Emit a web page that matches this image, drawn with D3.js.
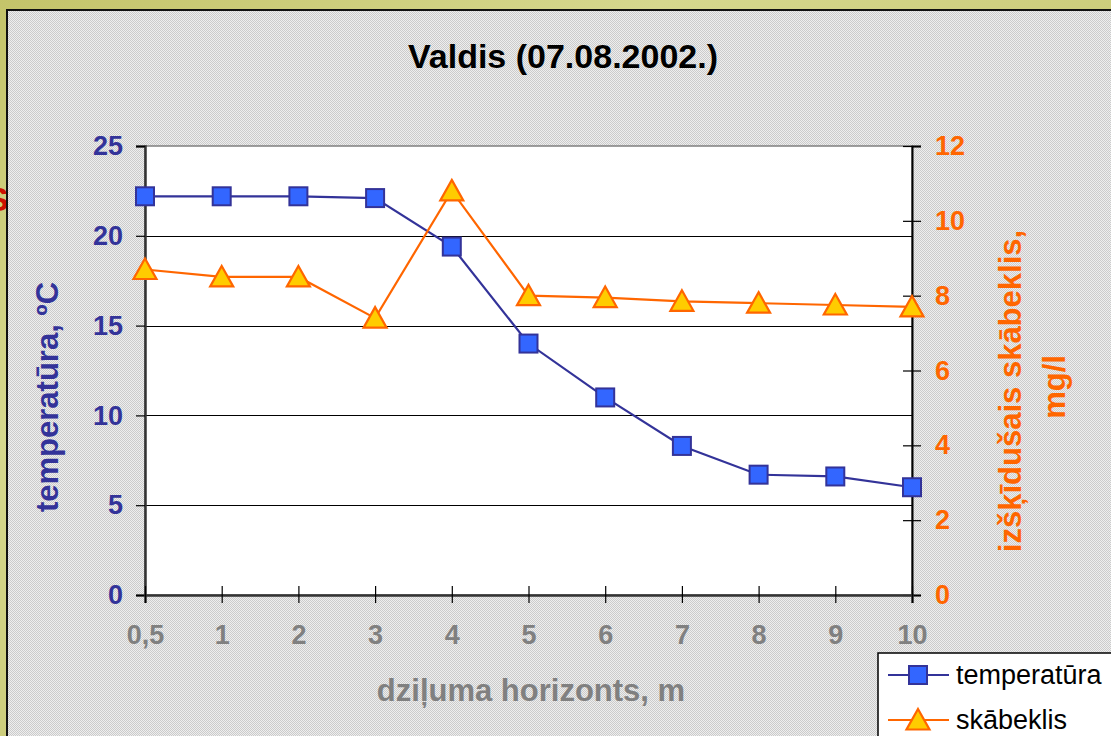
<!DOCTYPE html>
<html>
<head>
<meta charset="utf-8">
<script src="https://cdn.jsdelivr.net/npm/d3@7"></script>
<style>
  html, body { margin: 0; padding: 0; overflow: hidden; background: #c8c878; }
  svg { display: block; font-family: "Liberation Sans", Arial, sans-serif; }
</style>
</head>
<body>
<svg id="chart" width="1111" height="736"></svg>
<script>
const categories = ["0,5", "1", "2", "3", "4", "5", "6", "7", "8", "9", "10"];
const temperature = [22.2, 22.2, 22.2, 22.1, 19.4, 14.0, 11.0, 8.3, 6.7, 6.6, 6.0];
const oxygen = [8.7, 8.5, 8.5, 7.4, 10.8, 8.0, 7.95, 7.85, 7.8, 7.75, 7.7];
const tempTicks = [0, 5, 10, 15, 20, 25];
const oxyTicks = [0, 2, 4, 6, 8, 10, 12];
const gridTicks = [5, 10, 15, 20];
const titleText = "Valdis (07.08.2002.)";
const xTitle = "dziļuma horizonts, m";
const yLeftTitle = "temperatūra, ºC";
const yRightTitle = ["izšķīdušais skābeklis,", "mg/l"];
const seriesNames = ["temperatūra", "skābeklis"];

const svg = d3.select("#chart");
const defs = svg.append("defs");

// grass-like background
const bg = defs.append("linearGradient").attr("id", "grass").attr("x1", 0).attr("y1", 0).attr("x2", 1).attr("y2", 1);
bg.append("stop").attr("offset", "0%").attr("stop-color", "#c4c46a");
bg.append("stop").attr("offset", "30%").attr("stop-color", "#d6d88e");
bg.append("stop").attr("offset", "60%").attr("stop-color", "#c8c874");
bg.append("stop").attr("offset", "100%").attr("stop-color", "#d2d488");

const pat = defs.append("pattern").attr("id", "hatch").attr("width", 2).attr("height", 2)
  .attr("patternUnits", "userSpaceOnUse");
pat.append("rect").attr("width", 2).attr("height", 2).attr("fill", "#eeeeee");
pat.append("rect").attr("width", 1).attr("height", 1).attr("fill", "#cbcbcb");
pat.append("rect").attr("x", 1).attr("y", 1).attr("width", 1).attr("height", 1).attr("fill", "#cbcbcb");

svg.append("rect").attr("width", 1111).attr("height", 736).attr("fill", "url(#grass)");
// partially hidden red text behind the chart
svg.append("text").attr("x", -14).attr("y", 211).attr("font-size", 34).attr("font-weight", "bold")
  .attr("fill", "#cc1100").text("S");

// chart area
svg.append("rect").attr("x", 7).attr("y", 10).attr("width", 1200).attr("height", 800)
  .attr("fill", "url(#hatch)").attr("stroke", "#111").attr("stroke-width", 2);

const plot = { left: 145, right: 912, top: 146, bottom: 595 };

const x = d3.scalePoint().domain(categories).range([plot.left, plot.right]).padding(0);
const yL = d3.scaleLinear().domain([0, 25]).range([plot.bottom, plot.top]);
const yR = d3.scaleLinear().domain([0, 12]).range([plot.bottom, plot.top]);

// plot area
svg.append("rect").attr("x", plot.left).attr("y", plot.top)
  .attr("width", plot.right - plot.left).attr("height", plot.bottom - plot.top)
  .attr("fill", "#fff").attr("stroke", "#808080").attr("stroke-width", 1.5);

// gridlines
svg.append("g").selectAll("line").data(gridTicks).join("line")
  .attr("x1", plot.left).attr("x2", plot.right)
  .attr("y1", d => Math.round(yL(d)) + 0.5).attr("y2", d => Math.round(yL(d)) + 0.5)
  .attr("stroke", "#000").attr("stroke-width", 1);

// title
svg.append("text").attr("x", 563).attr("y", 68).attr("text-anchor", "middle")
  .attr("font-size", 34).attr("font-weight", "bold").attr("fill", "#000").text(titleText);

// left axis
const gL = svg.append("g").attr("transform", `translate(${plot.left},0)`)
  .call(d3.axisLeft(yL).tickValues(tempTicks).tickSize(9).tickPadding(13));
gL.select(".domain").attr("stroke", "#333").attr("stroke-width", 2.5);
gL.selectAll(".tick line").attr("stroke", "#000").attr("stroke-width", 1.2);
gL.selectAll(".tick text").attr("font-size", 27).attr("font-weight", "bold")
  .attr("fill", "#333399").attr("font-family", "Liberation Sans, Arial, sans-serif");

// right axis
const gR = svg.append("g").attr("transform", `translate(${plot.right},0)`)
  .call(d3.axisRight(yR).tickValues(oxyTicks).tickSize(9).tickPadding(14));
gR.select(".domain").attr("stroke", "#000").attr("stroke-width", 2);
gR.selectAll(".tick line").attr("x1", -9).attr("stroke", "#000").attr("stroke-width", 1.2);
gR.selectAll(".tick text").attr("font-size", 27).attr("font-weight", "bold")
  .attr("fill", "#ff6600").attr("font-family", "Liberation Sans, Arial, sans-serif");

// bottom axis
const gB = svg.append("g").attr("transform", `translate(0,${plot.bottom})`)
  .call(d3.axisBottom(x).tickSize(8).tickPadding(22));
gB.select(".domain").attr("stroke", "#333").attr("stroke-width", 2.5);
gB.selectAll(".tick line").attr("y1", -9).attr("stroke", "#000").attr("stroke-width", 1.2);
gB.selectAll(".tick text").attr("font-size", 27).attr("font-weight", "bold")
  .attr("fill", "#808080").attr("font-family", "Liberation Sans, Arial, sans-serif");

// axis titles
svg.append("text").attr("x", 531).attr("y", 701).attr("text-anchor", "middle")
  .attr("font-size", 31).attr("font-weight", "bold").attr("fill", "#808080").text(xTitle);
svg.append("text").attr("transform", "translate(58,397) rotate(-90)").attr("text-anchor", "middle")
  .attr("font-size", 31).attr("font-weight", "bold").attr("fill", "#333399").text(yLeftTitle);
svg.append("text").attr("transform", "translate(1021,391) rotate(-90)").attr("text-anchor", "middle")
  .attr("font-size", 31).attr("font-weight", "bold").attr("fill", "#ff6600").text(yRightTitle[0]);
svg.append("text").attr("transform", "translate(1065,387) rotate(-90)").attr("text-anchor", "middle")
  .attr("font-size", 31).attr("font-weight", "bold").attr("fill", "#ff6600").text(yRightTitle[1]);

// series
const tempLine = d3.line().x((d, i) => x(categories[i])).y(d => yL(d));
const oxyLine = d3.line().x((d, i) => x(categories[i])).y(d => yR(d));

const triPath = "M0,-11 L11.5,9.5 L-11.5,9.5 Z";

function square(g, cx, cy) {
  g.append("rect").attr("x", cx - 9).attr("y", cy - 9).attr("width", 18).attr("height", 18)
    .attr("fill", "#3366ff").attr("stroke", "#333399").attr("stroke-width", 2);
}
function triangle(g, cx, cy) {
  g.append("path").attr("d", triPath).attr("transform", `translate(${cx},${cy})`)
    .attr("fill", "#ffcc00").attr("stroke", "#ff6600").attr("stroke-width", 2.2)
    .attr("stroke-linejoin", "miter");
}

svg.append("path").datum(temperature).attr("d", tempLine)
  .attr("fill", "none").attr("stroke", "#333399").attr("stroke-width", 2.2);
svg.append("path").datum(oxygen).attr("d", oxyLine)
  .attr("fill", "none").attr("stroke", "#ff6600").attr("stroke-width", 2.2);

const gT = svg.append("g");
temperature.forEach((d, i) => square(gT, x(categories[i]), yL(d)));
const gO = svg.append("g");
oxygen.forEach((d, i) => triangle(gO, x(categories[i]), yR(d)));

// legend
const lg = svg.append("g");
lg.append("rect").attr("x", 878).attr("y", 653).attr("width", 300).attr("height", 120)
  .attr("fill", "#fff").attr("stroke", "#000").attr("stroke-width", 1.5);
const rows = [675, 720];
lg.append("line").attr("x1", 888).attr("x2", 949).attr("y1", rows[0]).attr("y2", rows[0])
  .attr("stroke", "#333399").attr("stroke-width", 2.2);
square(lg, 918, rows[0]);
lg.append("line").attr("x1", 888).attr("x2", 949).attr("y1", rows[1]).attr("y2", rows[1])
  .attr("stroke", "#ff6600").attr("stroke-width", 2.2);
triangle(lg, 918, rows[1]);
seriesNames.forEach((n, i) => {
  lg.append("text").attr("x", 956).attr("y", rows[i]).attr("dy", "0.35em")
    .attr("font-size", 27).attr("fill", "#000").text(n);
});
</script>
</body>
</html>
